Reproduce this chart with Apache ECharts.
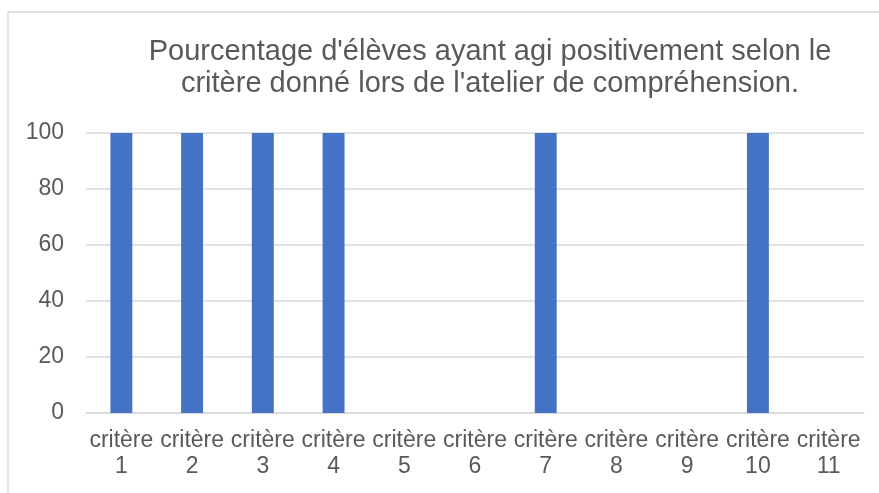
<!DOCTYPE html>
<html><head><meta charset="utf-8">
<script src="https://cdn.jsdelivr.net/npm/echarts@6/dist/echarts.min.js"></script>
<style>html,body{margin:0;padding:0;background:#fff}#c{width:879px;height:493px}</style>
</head><body><div id="c"></div>
<script>
var categories = ['critère\n1','critère\n2','critère\n3','critère\n4','critère\n5','critère\n6','critère\n7','critère\n8','critère\n9','critère\n10','critère\n11'];
var values = [100,100,100,100,0,0,100,0,0,100,0];
var yTicks = [0,20,40,60,80,100];
var chart = echarts.init(document.getElementById('c'));
chart.setOption({
  animation:false,
  backgroundColor:'#fff',
  graphic:[{type:'rect',shape:{x:8,y:12,width:900,height:500},style:{fill:'none',stroke:'#d9d9d9',lineWidth:1.3},silent:true}],
  title:{text:"Pourcentage d'élèves ayant agi positivement selon le\ncritère donné lors de l'atelier de compréhension.",
    left:485,textAlign:'center',top:31,
    textStyle:{fontFamily:'Liberation Sans, Arial',fontSize:29,fontWeight:'normal',color:'#595959',lineHeight:32}},
  grid:{left:86,right:15,top:133,bottom:80,containLabel:false},
  xAxis:{type:'category',data:categories,
    axisLine:{lineStyle:{color:'#d9d9d9',width:1.5}},axisTick:{show:false},
    axisLabel:{interval:0,margin:15,fontFamily:'Liberation Sans, Arial',fontSize:23,color:'#595959',lineHeight:26}},
  yAxis:{type:'value',min:0,max:100,interval:20,
    axisLine:{show:false},axisTick:{show:false},
    splitLine:{lineStyle:{color:'#d9d9d9',width:1.5}},
    axisLabel:{margin:22,fontFamily:'Liberation Sans, Arial',fontSize:23,color:'#595959',
      formatter:function(v){return yTicks.indexOf(v)>=0?String(v):'';}}},
  series:[{type:'bar',data:values,barWidth:'31%',itemStyle:{color:'#4472C4'}}]
});
</script></body></html>
